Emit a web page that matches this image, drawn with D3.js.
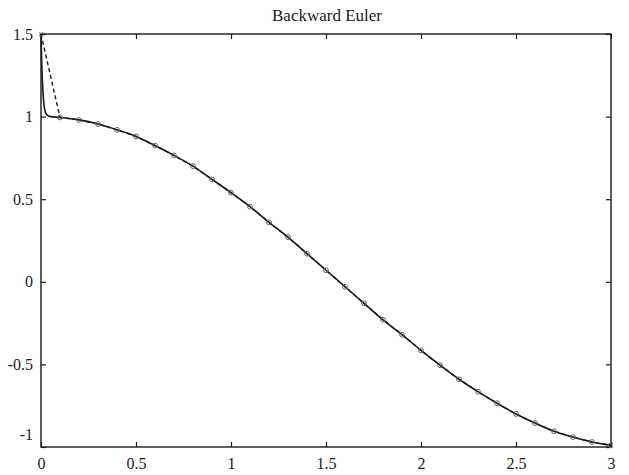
<!DOCTYPE html>
<html><head><meta charset="utf-8">
<script src="https://cdn.jsdelivr.net/npm/d3@7"></script>
<style>body{margin:0;background:#fff}svg{display:block}</style>
</head><body>
<svg id="c" width="629" height="475"></svg>
<script>
const title = "Backward Euler";
const xTicks = [0, 0.5, 1, 1.5, 2, 2.5, 3];
const yTicks = [-1, -0.5, 0, 0.5, 1, 1.5];
const xTickLabels = ["0", "0.5", "1", "1.5", "2", "2.5", "3"];
const yTickLabels = ["-1", "-0.5", "0", "0.5", "1", "1.5"];
// Backward Euler steps (dashed with circles)
const stepT = [0,0.1,0.2,0.3,0.4,0.5,0.6,0.7,0.8,0.9,1.0,1.1,1.2,1.3,1.4,1.5,1.6,1.7,1.8,1.9,2.0,2.1,2.2,2.3,2.4,2.5,2.6,2.7,2.8,2.9,3.0];
const stepY = [1.5,0.995,0.98,0.955,0.92,0.88,0.825,0.765,0.70,0.62,0.54,0.455,0.36,0.27,0.17,0.07,-0.03,-0.13,-0.23,-0.32,-0.415,-0.505,-0.59,-0.665,-0.735,-0.80,-0.855,-0.905,-0.94,-0.97,-0.99];
// Exact solution (solid)
const exactT = [0,0.004,0.008,0.012,0.016,0.02,0.03,0.05,0.1,0.2,0.3,0.4,0.5,0.6,0.7,0.8,0.9,1.0,1.1,1.2,1.3,1.4,1.5,1.6,1.7,1.8,1.9,2.0,2.1,2.2,2.3,2.4,2.5,2.6,2.7,2.8,2.9,3.0];
const exactY = [1.5,1.32,1.2,1.12,1.07,1.04,1.012,1.0,0.995,0.98,0.955,0.92,0.88,0.825,0.765,0.70,0.62,0.54,0.455,0.36,0.27,0.17,0.07,-0.03,-0.13,-0.23,-0.32,-0.415,-0.505,-0.59,-0.665,-0.735,-0.80,-0.855,-0.905,-0.94,-0.97,-0.99];

const L = 41, R = 611, T = 34, B = 447;
const FONT = "'Liberation Serif', 'Times New Roman', 'DejaVu Serif', serif";
const svg = d3.select("#c");
const x = d3.scaleLinear().domain([0, 3]).range([L, R]);
const y = d3.scaleLinear().domain([-1, 1.5]).range([B, T]);
const ink = "#1a1a1a";

svg.append("text").attr("x", 327).attr("y", 21).attr("text-anchor", "middle")
  .style("font-family", FONT).style("font-size", "17px").attr("fill", ink).text(title);

// frame
svg.append("rect").attr("x", L).attr("y", T).attr("width", R - L).attr("height", B - T)
  .attr("fill", "none").attr("stroke", ink).attr("stroke-width", 1.4);

// axes with inward ticks
const fmtX = (d, i) => xTickLabels[i];
const fmtY = (d, i) => yTickLabels[i];
const gb = svg.append("g").attr("transform", `translate(0,${B})`)
  .call(d3.axisBottom(x).tickValues(xTicks).tickFormat(fmtX).tickSizeInner(-5).tickSizeOuter(0).tickPadding(11));
const gt = svg.append("g").attr("transform", `translate(0,${T})`)
  .call(d3.axisTop(x).tickValues(xTicks).tickFormat("").tickSizeInner(-5).tickSizeOuter(0));
const gl = svg.append("g").attr("transform", `translate(${L},0)`)
  .call(d3.axisLeft(y).tickValues(yTicks).tickFormat(fmtY).tickSizeInner(-5).tickSizeOuter(0).tickPadding(8));
const gr = svg.append("g").attr("transform", `translate(${R},0)`)
  .call(d3.axisRight(y).tickValues(yTicks).tickFormat("").tickSizeInner(-5).tickSizeOuter(0));
[gb, gt, gl, gr].forEach(g => {
  g.select(".domain").remove();
  g.selectAll("line").attr("stroke", ink).attr("stroke-width", 1.2);
  g.selectAll("text").style("font-family", FONT).style("font-size", "16px").attr("fill", ink);
});
// lowest y label sits slightly above its tick in the reference
gl.selectAll(".tick text").filter(d => d === -1).attr("dy", "-0.45em");

svg.append("defs").append("clipPath").attr("id", "pc")
  .append("rect").attr("x", L - 2).attr("y", T - 2).attr("width", R - L + 4).attr("height", B - T + 4);

const plot = svg.append("g").attr("clip-path", "url(#pc)");
const exact = exactT.map((t, i) => [t, exactY[i]]);
const steps = stepT.map((t, i) => [t, stepY[i]]);

plot.append("path").datum(exact)
  .attr("d", d3.line().x(d => x(d[0])).y(d => y(d[1])).curve(d3.curveMonotoneX))
  .attr("fill", "none").attr("stroke", ink).attr("stroke-width", 1.6);

plot.append("path").datum(steps)
  .attr("d", d3.line().x(d => x(d[0])).y(d => y(d[1])))
  .attr("fill", "none").attr("stroke", ink).attr("stroke-width", 1.4).attr("stroke-dasharray", "4,3");

plot.selectAll("circle").data(steps).join("circle")
  .attr("cx", d => x(d[0])).attr("cy", d => y(d[1])).attr("r", 2.4)
  .attr("fill", "none").attr("stroke", "#666").attr("stroke-width", 1);
</script>
</body></html>
